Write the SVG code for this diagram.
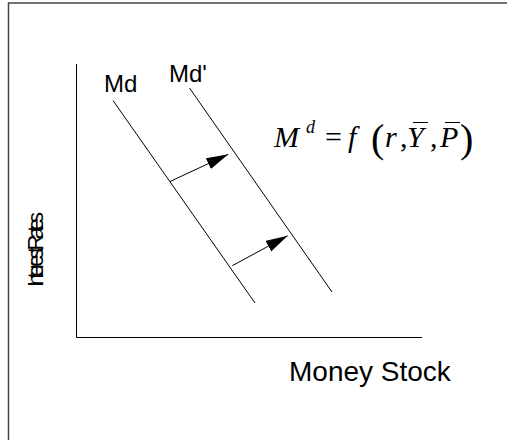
<svg xmlns="http://www.w3.org/2000/svg" width="507" height="440" viewBox="0 0 507 440">
<style>
.ln{stroke:#000;stroke-width:1;fill:none}
.frame{stroke:#444;stroke-width:1.5;fill:none}
.sans{font-family:"Liberation Sans",Arial,sans-serif;fill:#000}
.ser{font-family:"Liberation Serif","Times New Roman",serif;fill:#000}
.it{font-style:italic}
</style>
<defs>
<marker id="ah" markerUnits="userSpaceOnUse" markerWidth="24" markerHeight="14" refX="22" refY="6" orient="auto">
<path d="M0,0 L22,6 L0,12 Z" fill="#000"/>
</marker>
</defs>
<rect width="507" height="440" fill="#fff"/>
<g id="frame">
<path class="frame" d="M8.5,440 L8.5,3 L507,3"/>
</g>
<g id="axes">
<line class="ln" x1="76.5" y1="64" x2="76.5" y2="337.5"/>
<line class="ln" x1="76.5" y1="337.5" x2="422" y2="337.5"/>
</g>
<g id="curve-md">
<line class="ln" x1="113" y1="100.5" x2="255" y2="303"/>
<text class="sans" x="104" y="92" font-size="24">Md</text>
</g>
<g id="curve-md2">
<line class="ln" x1="189.5" y1="88" x2="332" y2="292"/>
<text class="sans" x="169" y="82" font-size="24">Md'</text>
</g>
<g id="connectors">
<line class="ln" x1="170" y1="181.5" x2="228.3" y2="154.3" marker-end="url(#ah)"/>
<line class="ln" x1="232.3" y1="265.7" x2="287.7" y2="235.7" marker-end="url(#ah)"/>
</g>
<g id="equation">
<text class="ser it" x="274" y="147" font-size="30">M</text>
<text class="ser it" x="306" y="133" font-size="18">d</text>
<text class="ser" x="325" y="147" font-size="30">=</text>
<text class="ser it" x="348" y="147" font-size="30">f</text>
<text class="ser" x="371" y="152" font-size="40">(</text>
<text class="ser it" x="385" y="147" font-size="30">r</text>
<text class="ser" x="400" y="147" font-size="30">,</text>
<text class="ser it" x="407" y="147" font-size="30">Y</text>
<line class="ln" x1="413" y1="122.5" x2="428" y2="122.5"/>
<text class="ser" x="430" y="147" font-size="30">,</text>
<text class="ser it" x="440" y="147" font-size="30">P</text>
<line class="ln" x1="445" y1="122.5" x2="460" y2="122.5"/>
<text class="ser" x="460" y="152" font-size="40">)</text>
</g>
<g id="xlabel">
<text class="sans" x="289" y="381" font-size="28">Money Stock</text>
</g>
<g id="ylabel">
<text class="sans" transform="translate(43,287) rotate(-90)" font-size="22" textLength="75" lengthAdjust="spacing">Interest Rates</text>
</g>
</svg>
